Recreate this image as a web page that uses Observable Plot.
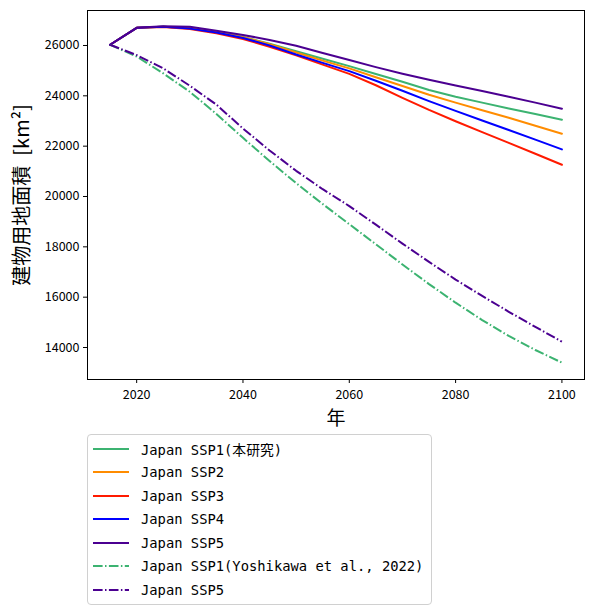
<!DOCTYPE html>
<html>
<head>
<meta charset="utf-8">
<script src="https://cdn.jsdelivr.net/npm/d3@7"></script>
<script src="https://cdn.jsdelivr.net/npm/@observablehq/plot@0.6"></script>
<style>
  body { margin: 0; background: #fff; font-family: "Noto Sans CJK JP", sans-serif; }
  #legend {
    margin: 4px 0 0 87px; width: 343px; padding: 2px 0;
    border: 1px solid #d0d0d0; border-radius: 4px;
    font-family: "DejaVu Sans Mono", "Noto Sans CJK JP", monospace; font-size: 13.8px;
  }
  .row { height: 23.5px; display: flex; align-items: center; }
  .row svg { margin: 0 12px 0 5px; }
</style>
</head>
<body>
<div id="chart"></div>
<div id="legend"></div>
<script>
// 5-year steps
const years = [2015, 2020, 2025, 2030, 2035, 2040, 2045, 2050, 2055, 2060, 2065, 2070, 2075, 2080, 2085, 2090, 2095, 2100];

const ssp1 = [26030, 26700, 26740, 26690, 26550, 26340, 26070, 25770, 25470, 25180, 24870, 24560, 24230, 23960, 23730, 23500, 23280, 23050];
const ssp2 = [26030, 26700, 26740, 26680, 26540, 26330, 26050, 25720, 25400, 25090, 24740, 24390, 24040, 23730, 23430, 23130, 22810, 22490];
const ssp3 = [26030, 26700, 26730, 26650, 26490, 26260, 25950, 25610, 25240, 24870, 24420, 23920, 23440, 22990, 22560, 22130, 21700, 21260];
const ssp4 = [26030, 26700, 26740, 26670, 26520, 26300, 26000, 25640, 25310, 24980, 24600, 24200, 23790, 23400, 23020, 22640, 22260, 21870];
const ssp5 = [26030, 26700, 26760, 26740, 26590, 26420, 26220, 25990, 25700, 25420, 25140, 24880, 24640, 24410, 24190, 23960, 23730, 23490];
// Yoshikawa et al., 2022
const ssp1Yoshi = [26030, 25560, 24890, 24160, 23280, 22330, 21410, 20530, 19700, 18900, 18100, 17300, 16520, 15780, 15090, 14460, 13900, 13400];
const ssp5Yoshi = [26030, 25620, 25090, 24400, 23650, 22700, 21830, 21020, 20290, 19620, 18880, 18130, 17400, 16700, 16050, 15420, 14820, 14230];

const names = ["Japan SSP1(本研究)", "Japan SSP2", "Japan SSP3", "Japan SSP4", "Japan SSP5", "Japan SSP1(Yoshikawa et al., 2022)", "Japan SSP5"];
const colors = ["#3cb371", "#ff8c00", "#ff1a00", "#0000ff", "#4b0091", "#3cb371", "#4b0091"];
const dashes = [null, null, null, null, null, "9.6,2.4,1.5,2.4", "9.6,2.4,1.5,2.4"];
const series = [ssp1, ssp2, ssp3, ssp4, ssp5, ssp1Yoshi, ssp5Yoshi];

const xTicks = [2020, 2040, 2060, 2080, 2100];
const yTicks = [14000, 16000, 18000, 20000, 22000, 24000, 26000];

// butt caps, otherwise the round caps fill in the dash-dot gaps
const lines = series.map((vals, i) => Plot.line(
  years.map((y, j) => ({year: y, value: vals[j]})),
  {x: "year", y: "value", stroke: colors[i], strokeWidth: 2, strokeDasharray: dashes[i],
   strokeLinecap: dashes[i] ? "butt" : "round"}
));

const chart = Plot.plot({
  width: 592,
  height: 430,
  marginTop: 10,
  marginBottom: 51,
  marginLeft: 87,
  marginRight: 8,
  style: {fontFamily: "Noto Sans CJK JP, sans-serif", color: "#000", background: "#fff"},
  x: {domain: [2010.75, 2104.25]},
  y: {domain: [12729, 27390]},
  marks: [
    ...lines,
    Plot.frame({stroke: "#000", strokeWidth: 1}),
    Plot.axisX({ticks: xTicks, tickFormat: d => String(d), tickSize: 4, tickPadding: 7, fontSize: 12.5, label: null}),
    Plot.axisY({ticks: yTicks, tickFormat: d => String(d), tickSize: 4, tickPadding: 4, fontSize: 12.5, label: null}),
    Plot.text(["年"], {frameAnchor: "bottom", dy: 45, fontSize: 19}),
    Plot.text(["建物用地面積\u2002[km²]"], {frameAnchor: "left", textAnchor: "middle", rotate: -90, dx: -65, fontSize: 20})
  ]
});
document.getElementById("chart").appendChild(chart);

// legend, same order as the lines
const legend = document.getElementById("legend");
names.forEach((name, i) => {
  const row = document.createElement("div");
  row.className = "row";
  const dash = dashes[i] ? ` stroke-dasharray="${dashes[i]}"` : "";
  row.innerHTML = `<svg width="36" height="6"><line x1="0" x2="36" y1="3" y2="3" stroke="${colors[i]}" stroke-width="2"${dash}/></svg><span>${name}</span>`;
  legend.appendChild(row);
});
</script>
</body>
</html>
